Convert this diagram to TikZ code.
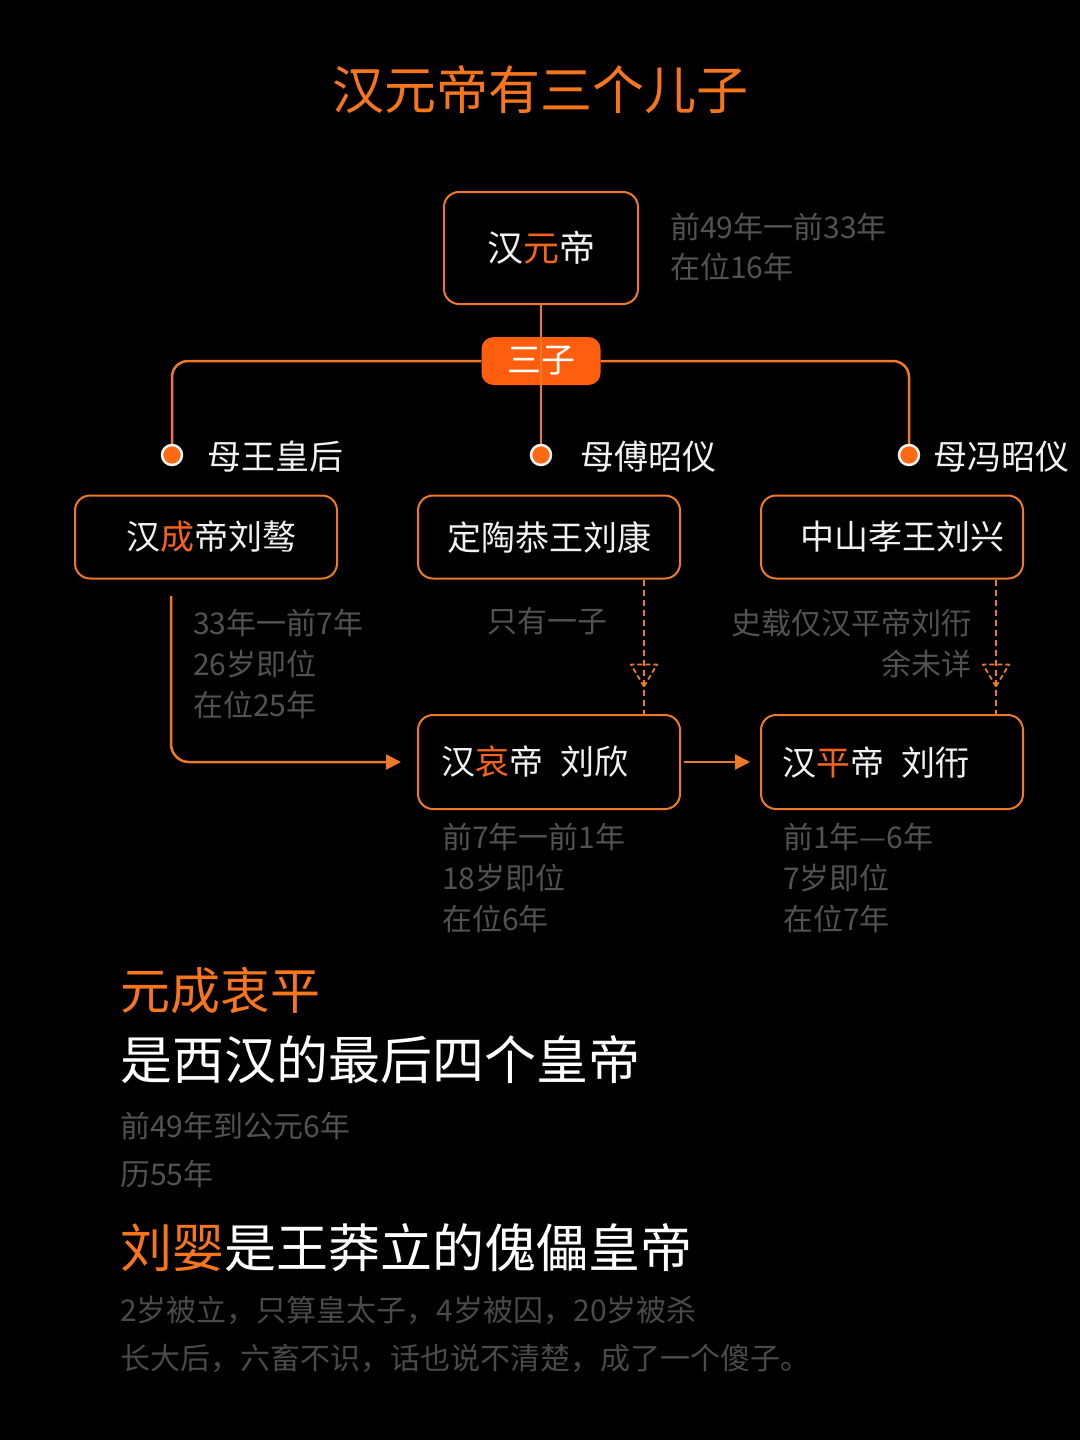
\documentclass[tikz,border=0pt]{standalone}
\usepackage{fontspec}
\setmainfont{Noto Sans CJK SC}
\usetikzlibrary{arrows.meta,calc}
\definecolor{orT}{HTML}{F7761C}
\definecolor{orH}{HTML}{F5641A}
\definecolor{orB}{HTML}{EE7A28}
\definecolor{orP}{HTML}{FF5E0E}
\definecolor{orD}{HTML}{FF6A12}
\definecolor{grT}{HTML}{525252}
\definecolor{whT}{HTML}{F2F2F2}
\newcommand{\hl}[1]{\textcolor{orH}{#1}}
\tikzset{
  box/.style={draw=orB, line width=2pt, rounded corners=15pt, text=whT, inner sep=0pt},
  conn/.style={draw=orB, line width=2.5pt},
  dashconn/.style={draw=orB, line width=1.8pt, dash pattern=on 6pt off 4pt},
  dot/.style={circle, fill=orD, draw=whT, line width=2.5pt, minimum size=20pt, inner sep=0pt},
  wt/.style={text=whT, inner sep=0pt, font=\fontsize{34pt}{40pt}\selectfont},
  gt/.style={text=grT, inner sep=0pt, font=\fontsize{30pt}{41pt}\selectfont},
  tip/.style={-{Triangle[length=15pt,width=15pt]}}
}
\begin{document}
\begin{tikzpicture}[x=1pt,y=-1pt]
\fill[black] (0,0) rectangle (1080,1440);
\useasboundingbox (0,0) rectangle (1080,1440);

% title
\node[text=orT, inner sep=0pt, font=\fontsize{52pt}{60pt}\selectfont] (title) at (540,90) {汉元帝有三个儿子};

% top emperor
\node[box, minimum width=194pt, minimum height=112pt, font=\fontsize{36pt}{42pt}\selectfont] (yuan) at (541,248) {汉\hl{元}帝};
\node[gt, anchor=north west, align=left, font=\fontsize{30pt}{40pt}\selectfont] (yuaninfo) at (670,213) {前49年一前33年\\在位16年};

% pill
\node[fill=orP, rounded corners=12pt, minimum width=119pt, minimum height=48pt, inner sep=0pt, text=white, font=\fontsize{34pt}{40pt}\selectfont] (sanzi) at (541,361) {三子};

% branch points
\coordinate (pA) at (172,455);
\coordinate (pB) at (541,455);
\coordinate (pC) at (909,455);
\draw[conn, rounded corners=16pt] (pA) |- (sanzi.west);
\draw[conn, rounded corners=16pt] (sanzi.east) -| (pC);
\draw[conn] (yuan.south) -- (pB);
\node[dot] (dA) at (pA) {};
\node[dot] (dB) at (pB) {};
\node[dot] (dC) at (pC) {};

\node[wt, anchor=west] (mA) at (207,457) {母王皇后};
\node[wt, anchor=west] (mB) at (580,457) {母傅昭仪};
\node[wt, anchor=west] (mC) at (933,457) {母冯昭仪};

% row 1
\node[box, minimum width=262pt, minimum height=83pt, font=\fontsize{34pt}{40pt}\selectfont] (n1) at (206,537) {\hspace{10pt}汉\hl{成}帝刘骜};
\node[box, minimum width=262pt, minimum height=83pt, font=\fontsize{34pt}{40pt}\selectfont] (n2) at (549,537) {定陶恭王刘康};
\node[box, minimum width=262pt, minimum height=83pt, font=\fontsize{34pt}{40pt}\selectfont] (n3) at (892,537) {\hspace{20pt}中山孝王刘兴};

% row 2
\node[box, minimum width=262pt, minimum height=94pt] (n5) at (549,762) {};
\node[box, minimum width=262pt, minimum height=94pt] (n6) at (892,762) {};
\node[wt, anchor=west] (t5) at ([xshift=24pt]n5.west) {汉\hl{哀}帝\hspace{17pt}刘欣};
\node[wt, anchor=west] (t6) at ([xshift=22pt]n6.west) {汉\hl{平}帝\hspace{17pt}刘衎};

% connectors
\coordinate (c1) at (171,596);
\draw[conn, tip, rounded corners=18pt] (c1) |- ([xshift=-16pt]n5.west);
\draw[conn, tip] ([xshift=3pt]n5.east) -- ([xshift=-10pt]n6.west);

\draw[dashconn] ([xshift=-37pt]n2.south east) -- ([xshift=-37pt]n5.north east);
\draw[dashconn] ([xshift=-28pt]n3.south east) -- ([xshift=-28pt]n6.north east);
\coordinate (tr1) at ($(n2.south east)+(-37,107)$);
\coordinate (tr2) at ($(n3.south east)+(-28,107)$);
\draw[dashconn, line join=round, dash pattern=on 5pt off 3pt] (tr1) -- ++(-13,-22) -- ++(26,0) -- cycle;
\draw[dashconn, line join=round, dash pattern=on 5pt off 3pt] (tr2) -- ++(-13,-22) -- ++(26,0) -- cycle;

% side notes
\node[gt, anchor=north west, align=left] (i1) at (193,609) {33年一前7年\\26岁即位\\在位25年};
\node[gt, anchor=west] (i2) at (487,621) {只有一子};
\node[gt, anchor=north east, align=right] (i3) at (972,609) {史载仅汉平帝刘衎\\余未详};
\node[gt, anchor=north west, align=left] (i5) at (442,823) {前7年一前1年\\18岁即位\\在位6年};
\node[gt, anchor=north west, align=left] (i6) at (783,823) {前1年—6年\\7岁即位\\在位7年};

% bottom
\node[text=orT, inner sep=0pt, anchor=west, font=\fontsize{50pt}{58pt}\selectfont] (b1) at (120,990) {元成衷平};
\node[text=white, inner sep=0pt, anchor=west, font=\fontsize{52pt}{60pt}\selectfont] (b2) at (120,1060) {是西汉的最后四个皇帝};
\node[gt, anchor=north west, align=left, font=\fontsize{30pt}{48pt}\selectfont] (b3) at (120,1112) {前49年到公元6年\\历55年};
\node[text=white, inner sep=0pt, anchor=west, font=\fontsize{52pt}{60pt}\selectfont] (b4) at (120,1248) {\textcolor{orT}{刘婴}是王莽立的傀儡皇帝};
\node[gt, anchor=north west, align=left, text=grT!90!black, font=\fontsize{30pt}{48pt}\selectfont] (b5) at (120,1296) {2岁被立，只算皇太子，4岁被囚，20岁被杀\\长大后，六畜不识，话也说不清楚，成了一个傻子。};
\end{tikzpicture}
\end{document}
